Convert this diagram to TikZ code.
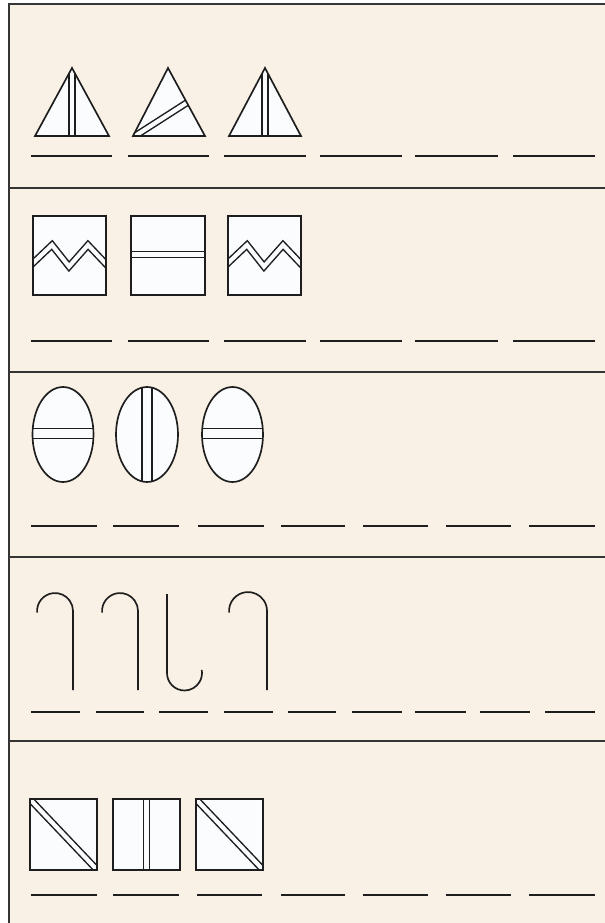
\documentclass[tikz,border=0pt]{standalone}
\definecolor{paper}{RGB}{249,240,230}
\definecolor{card}{RGB}{251,252,253}
\definecolor{ink}{RGB}{30,30,30}

\begin{document}
\begin{tikzpicture}[
    x=0.02cm, y=-0.02cm,
    frame/.style={draw=ink!90, line width=1.05pt},
    figure/.style={draw=ink, fill=card, line width=0.95pt},
    strip/.style={draw=ink, line width=0.85pt, double=card, double distance=2.4pt},
    wide strip/.style={strip, double distance=4.8pt},
    hook/.style={draw=ink, line width=0.95pt},
    blank/.style={draw=ink, line width=1.25pt}
]
\useasboundingbox (0,0) rectangle (605,923);

% Sheet and row lines
\fill[paper] (9,4) rectangle (612,930);
\draw[frame] (9,930) -- (9,4) -- (612,4);
\draw[frame] (9,188) -- (612,188);
\draw[frame] (9,372) -- (612,372);
\draw[frame] (9,557) -- (612,557);
\draw[frame] (9,741) -- (612,741);

% Row 1: triangles
\draw[figure, path picture={\draw[strip] (72,60) -- (72,140);}] (35,136) -- (72,68) -- (109,136) -- cycle;
\draw[figure, path picture={\draw[strip] (125,142.4) -- (200,94.3);}] (133,136) -- (168,68) -- (205,136) -- cycle;
\draw[figure, path picture={\draw[strip] (265,60) -- (265,140);}] (229,136) -- (265,68) -- (301,136) -- cycle;
\draw[blank] (31,156) -- (112,156) (128,156) -- (209,156) (224,156) -- (306,156)
             (320,156) -- (402,156) (415,156) -- (498,156) (513,156) -- (595,156);

% Row 2: squares
\draw[figure, path picture={\draw[strip] (25,270.6) -- (52,245) -- (69,266.5) -- (88,245) -- (114,272.4);}] (33,216) rectangle (106,295);
\draw[figure, path picture={\draw[strip] (125,254.5) -- (210,254.5);}] (131,216) rectangle (205,295);
\draw[figure, path picture={\draw[strip] (220,270.6) -- (247,245) -- (264,266.5) -- (283,245) -- (309,272.4);}] (228,216) rectangle (301,295);
\draw[blank] (31,341) -- (112,341) (128,341) -- (209,341) (224,341) -- (306,341)
             (320,341) -- (402,341) (415,341) -- (498,341) (513,341) -- (595,341);

% Row 3: ovals
\draw[figure, path picture={\draw[wide strip] (25,433.5) -- (100,433.5);}] (63,434.5) ellipse[x radius=30.5, y radius=47.5];
\draw[figure, path picture={\draw[wide strip] (147,380) -- (147,490);}] (147,434.5) ellipse[x radius=31, y radius=47.5];
\draw[figure, path picture={\draw[wide strip] (195,433.5) -- (270,433.5);}] (232.5,434.5) ellipse[x radius=30.5, y radius=47.5];
\draw[blank] (31,526) -- (97,526) (113,526) -- (179,526) (198,526) -- (264,526) (281,526) -- (345,526)
             (363,526) -- (428,526) (446,526) -- (511,526) (529,526) -- (595,526);

% Row 4: hooks
\draw[hook] (37.1,612.6) arc[start angle=175, end angle=360, radius=18] -- (73,690);
\draw[hook] (102.1,612.6) arc[start angle=175, end angle=360, radius=18] -- (138,690);
\draw[hook] (167,594) -- (167,673) arc[start angle=180, end angle=-10, radius=17.5];
\draw[hook] (229.1,612.7) arc[start angle=175, end angle=360, radius=19] -- (267,690);
\draw[blank] (31,712) -- (80,712) (96,712) -- (144,712) (159,712) -- (208,712) (224,712) -- (273,712)
             (288,712) -- (336,712) (352,712) -- (402,712) (415,712) -- (466,712) (480,712) -- (530,712)
             (545,712) -- (595,712);

% Row 5: squares with bars
\draw[figure, path picture={\draw[strip] (25,794) -- (102,875);}] (30,799) rectangle (97,870);
\draw[figure, path picture={\draw[strip] (146.5,790) -- (146.5,880);}] (113,799) rectangle (180,870);
\draw[figure, path picture={\draw[strip] (191,794) -- (268,875);}] (196,799) rectangle (263,870);
\draw[blank] (31,895) -- (97,895) (113,895) -- (179,895) (197,895) -- (262,895) (281,895) -- (345,895)
             (363,895) -- (428,895) (446,895) -- (511,895) (529,895) -- (595,895);

\end{tikzpicture}
\end{document}
